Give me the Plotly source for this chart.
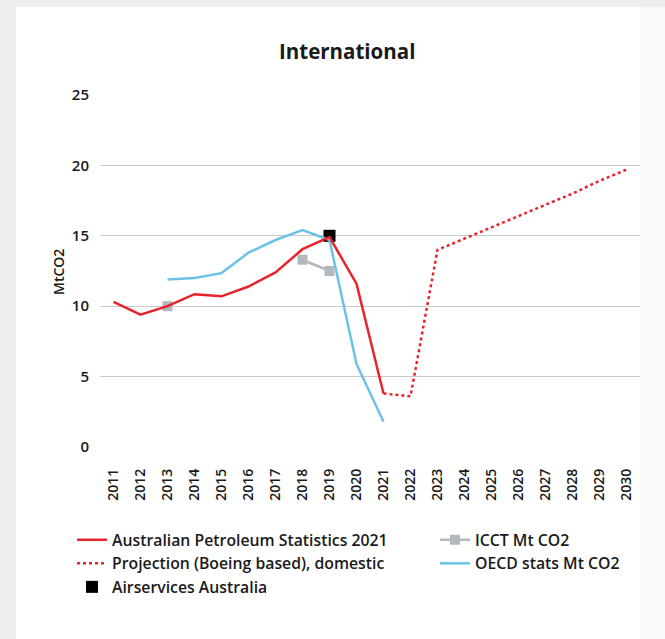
import plotly.graph_objects as go

# Years on the category axis
years = list(range(2011, 2031))

# Australian Petroleum Statistics 2021 (MtCO2), 2011-2021
aps_years = list(range(2011, 2022))
aps_values = [10.3, 9.4, 10.0, 10.85, 10.7, 11.4, 12.4, 14.05, 14.9, 11.6, 3.8]

# Projection (Boeing based), 2021-2030
proj_years = list(range(2021, 2031))
proj_values = [3.8, 3.6, 14.0, 14.8, 15.6, 16.4, 17.2, 18.0, 18.9, 19.7]

# ICCT estimates (gaps where no value)
icct_years = list(range(2013, 2020))
icct_values = [10.0, None, None, None, None, 13.3, 12.5]

# OECD stats, 2013-2021
oecd_years = list(range(2013, 2022))
oecd_values = [11.9, 12.0, 12.35, 13.8, 14.7, 15.4, 14.7, 5.9, 1.8]

# Airservices Australia
air_years = [2019]
air_values = [15.0]

RED = "#e8232b"
BLUE = "#6cc2e6"
GREY = "#b3b8bd"
TEXT = "#1a1a1a"
FONT = "Open Sans"
WEIGHT = 600

fig = go.Figure()

fig.add_trace(go.Scatter(
    x=air_years, y=air_values, mode="markers", name="Airservices Australia",
    marker=dict(symbol="square", size=12, color="#000000"),
    legend="legend", legendrank=3,
))
fig.add_trace(go.Scatter(
    x=icct_years, y=icct_values, mode="lines+markers", name="ICCT Mt CO2",
    line=dict(color=GREY, width=2.5), connectgaps=False,
    marker=dict(symbol="square", size=10, color=GREY),
    legend="legend2", legendrank=1,
))
fig.add_trace(go.Scatter(
    x=oecd_years, y=oecd_values, mode="lines", name="OECD stats Mt CO2",
    line=dict(color=BLUE, width=2.5),
    legend="legend2", legendrank=2,
))
fig.add_trace(go.Scatter(
    x=aps_years, y=aps_values, mode="lines", name="Australian Petroleum Statistics 2021",
    line=dict(color=RED, width=2.5),
    legend="legend", legendrank=1,
))
fig.add_trace(go.Scatter(
    x=proj_years, y=proj_values, mode="lines", name="Projection (Boeing based), domestic",
    line=dict(color=RED, width=2.5, dash="dot"),
    legend="legend", legendrank=2,
))

L, R, T, B = 100, 25, 95, 192
W, H = 665, 639
pw, ph = W - L - R, H - T - B


def px_x(p):
    return (p - L) / pw


def px_y(p):
    return (H - B - p) / ph


legend_common = dict(
    orientation="v", bgcolor="rgba(0,0,0,0)",
    font=dict(family=FONT, size=15.8, color=TEXT, weight=WEIGHT),
    xanchor="left", yanchor="top", tracegroupgap=0, itemwidth=30,
)

fig.update_layout(
    width=W, height=H,
    margin=dict(l=L, r=R, t=T, b=B),
    paper_bgcolor="#eeeeec",
    plot_bgcolor="rgba(0,0,0,0)",
    font=dict(family=FONT, color=TEXT),
    showlegend=True,
    legend=dict(x=px_x(72), y=px_y(523), **legend_common),
    legend2=dict(x=px_x(435), y=px_y(523), **legend_common),
    xaxis=dict(
        range=[2010.5, 2030.5], tickmode="array", tickvals=years,
        ticktext=[str(y) for y in years], tickangle=-90,
        tickfont=dict(family=FONT, size=14, color=TEXT, weight=WEIGHT),
        showgrid=False, zeroline=False, showline=False, ticks="",
        ticklabelstandoff=18, fixedrange=True,
    ),
    yaxis=dict(
        range=[0, 25], tickvals=[0, 5, 10, 15, 20, 25],
        tickfont=dict(family=FONT, size=15, color=TEXT, weight=WEIGHT),
        showgrid=True, gridcolor="#c9c9c9", gridwidth=1,
        zeroline=False, showline=False, ticks="", ticklabelstandoff=10,
    ),
    shapes=[
        dict(type="rect", xref="paper", yref="paper", layer="below",
             x0=px_x(16), x1=px_x(640), y0=px_y(W), y1=px_y(7),
             fillcolor="#ffffff", line=dict(width=0)),
        dict(type="rect", xref="paper", yref="paper", layer="below",
             x0=px_x(640), x1=px_x(W + 5), y0=px_y(W), y1=px_y(7),
             fillcolor="#f9f9f9", line=dict(width=0)),
    ],
    annotations=[
        dict(text="International", xref="paper", yref="paper",
             x=px_x(347), y=px_y(51), xanchor="center", yanchor="middle",
             showarrow=False,
             font=dict(family=FONT, size=20.5, color=TEXT, weight=700)),
        dict(text="MtCO2", xref="paper", yref="paper", textangle=-90,
             x=px_x(58), y=px_y(272), xanchor="center", yanchor="middle",
             showarrow=False,
             font=dict(family=FONT, size=14, color=TEXT, weight=WEIGHT)),
    ],
)

fig.write_html("out.html")
